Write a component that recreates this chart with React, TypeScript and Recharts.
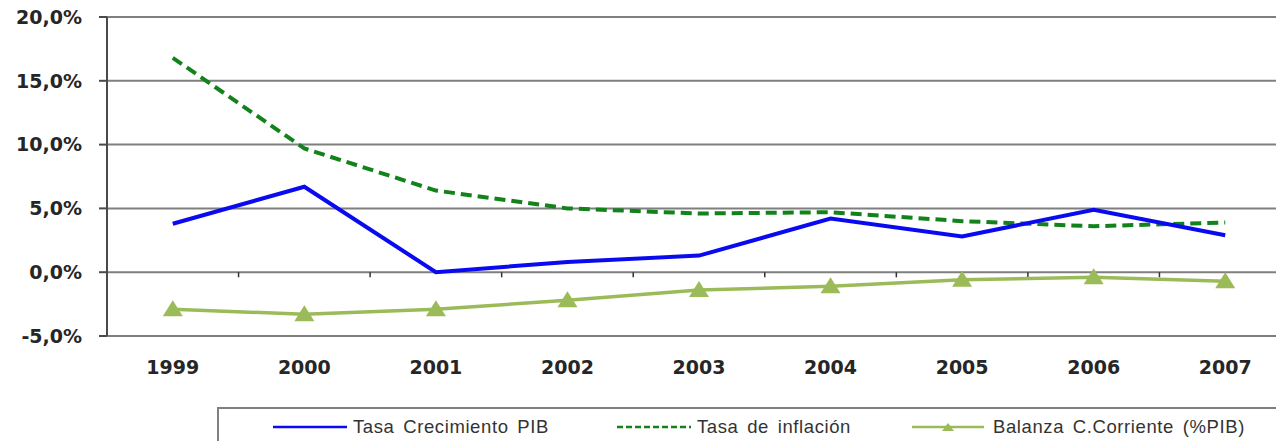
import { LineChart, Line, XAxis, YAxis, CartesianGrid, ReferenceLine, Legend } from 'recharts';

const years = ['1999', '2000', '2001', '2002', '2003', '2004', '2005', '2006', '2007'];
const crecimientoPIB = [3.8, 6.7, 0.0, 0.8, 1.3, 4.2, 2.8, 4.9, 2.9];
const inflacion = [16.8, 9.7, 6.4, 5.0, 4.6, 4.7, 4.0, 3.6, 3.9];
const balanza = [-2.9, -3.3, -2.9, -2.2, -1.4, -1.1, -0.6, -0.4, -0.7];
const yTicks = [-5, 0, 5, 10, 15, 20];

const BLUE = '#0a0af0';
const DARK_GREEN = '#12821a';
const OLIVE = '#9bbb59';

const data = years.map((year, i) => ({
  x: i,
  year,
  pib: crecimientoPIB[i],
  inflacion: inflacion[i],
  balanza: balanza[i],
}));

const tickFont = { fontFamily: 'DejaVu Sans', fontSize: 19, fontWeight: 'bold', fill: '#262626' };

function Triangle(props: any) {
  const { cx, cy } = props;
  if (cx == null || cy == null) return null;
  return <polygon points={`${cx - 10},${cy + 7} ${cx + 10},${cy + 7} ${cx},${cy - 9}`} fill={OLIVE} />;
}

// legend keys sit at fixed offsets inside the framed box
function LegendBox() {
  const items = [
    { left: 54, label: 'Tasa Crecimiento PIB', kind: 'solid' },
    { left: 398, label: 'Tasa de inflación', kind: 'dashed' },
    { left: 693, label: 'Balanza C.Corriente (%PIB)', kind: 'triangle' },
  ];
  return (
    <div style={{
      width: 1100, height: 60, border: '2px solid #808080', boxSizing: 'border-box',
      position: 'relative', background: '#fff',
    }}>
      {items.map((it) => (
        <div key={it.label} style={{ position: 'absolute', left: it.left, top: 6, height: 24, width: 400 }}>
          <svg width={76} height={24} style={{ position: 'absolute', left: 0, top: 0 }}>
            {it.kind === 'solid' && <line x1={0} x2={74} y1={12} y2={12} stroke={BLUE} strokeWidth={2.5} />}
            {it.kind === 'dashed' && <line x1={0} x2={74} y1={12} y2={12} stroke={DARK_GREEN} strokeWidth={2.5} strokeDasharray="6 3" />}
            {it.kind === 'triangle' && (
              <g>
                <line x1={0} x2={72} y1={12} y2={12} stroke={OLIVE} strokeWidth={2.5} />
                <polygon points="30,16 42,16 36,8" fill={OLIVE} />
              </g>
            )}
          </svg>
          <span style={{
            position: 'absolute', left: it.kind === 'triangle' ? 81 : 80, top: 0, lineHeight: '24px',
            fontFamily: 'Liberation Sans, Arial', fontSize: 18.5, letterSpacing: 0.6, wordSpacing: 3,
            color: '#333', whiteSpace: 'nowrap',
          }}>
            {it.label}
          </span>
        </div>
      ))}
    </div>
  );
}

export default function App() {
  return (
    <div style={{
      position: 'fixed', left: 0, top: 0, width: 1276, height: 441,
      overflow: 'hidden', background: '#fff',
    }}>
      <LineChart width={1300} height={441} data={data} margin={{ top: 17, right: 9, bottom: 0, left: 0 }}>
        <CartesianGrid horizontal vertical={false} stroke="#7f7f7f" strokeWidth={2} />
        <XAxis
          dataKey="x"
          type="number"
          domain={[-0.5, 8.5]}
          ticks={[0, 1, 2, 3, 4, 5, 6, 7, 8]}
          tickFormatter={(i: number) => years[i]}
          interval={0}
          axisLine={false}
          tickLine={false}
          tickSize={0}
          tickMargin={25}
          height={105}
          tick={tickFont}
        />
        <YAxis
          width={107}
          domain={[-5, 20]}
          ticks={yTicks}
          tickFormatter={(v: number) => `${v.toFixed(1).replace('.', ',')}%`}
          tickSize={8}
          tickMargin={17}
          axisLine={{ stroke: '#4a4a4a', strokeWidth: 2 }}
          tickLine={{ stroke: '#4a4a4a', strokeWidth: 2 }}
          tick={tickFont}
        />
        {years.slice(1).map((_, k) => (
          <ReferenceLine
            key={k}
            segment={[{ x: k + 0.5, y: 0 }, { x: k + 0.5, y: -0.4 }]}
            stroke="#333"
            strokeWidth={1.5}
          />
        ))}
        <Line dataKey="inflacion" type="linear" stroke={DARK_GREEN} strokeWidth={4} strokeDasharray="11 6" dot={false} isAnimationActive={false} />
        <Line dataKey="pib" type="linear" stroke={BLUE} strokeWidth={4} dot={false} isAnimationActive={false} />
        <Line dataKey="balanza" type="linear" stroke={OLIVE} strokeWidth={3.5} dot={<Triangle />} activeDot={false} isAnimationActive={false} />
        <Legend
          layout="horizontal"
          verticalAlign="middle"
          align="center"
          content={() => <LegendBox />}
          wrapperStyle={{ left: 217, top: 407, width: 1100 }}
        />
      </LineChart>
    </div>
  );
}
